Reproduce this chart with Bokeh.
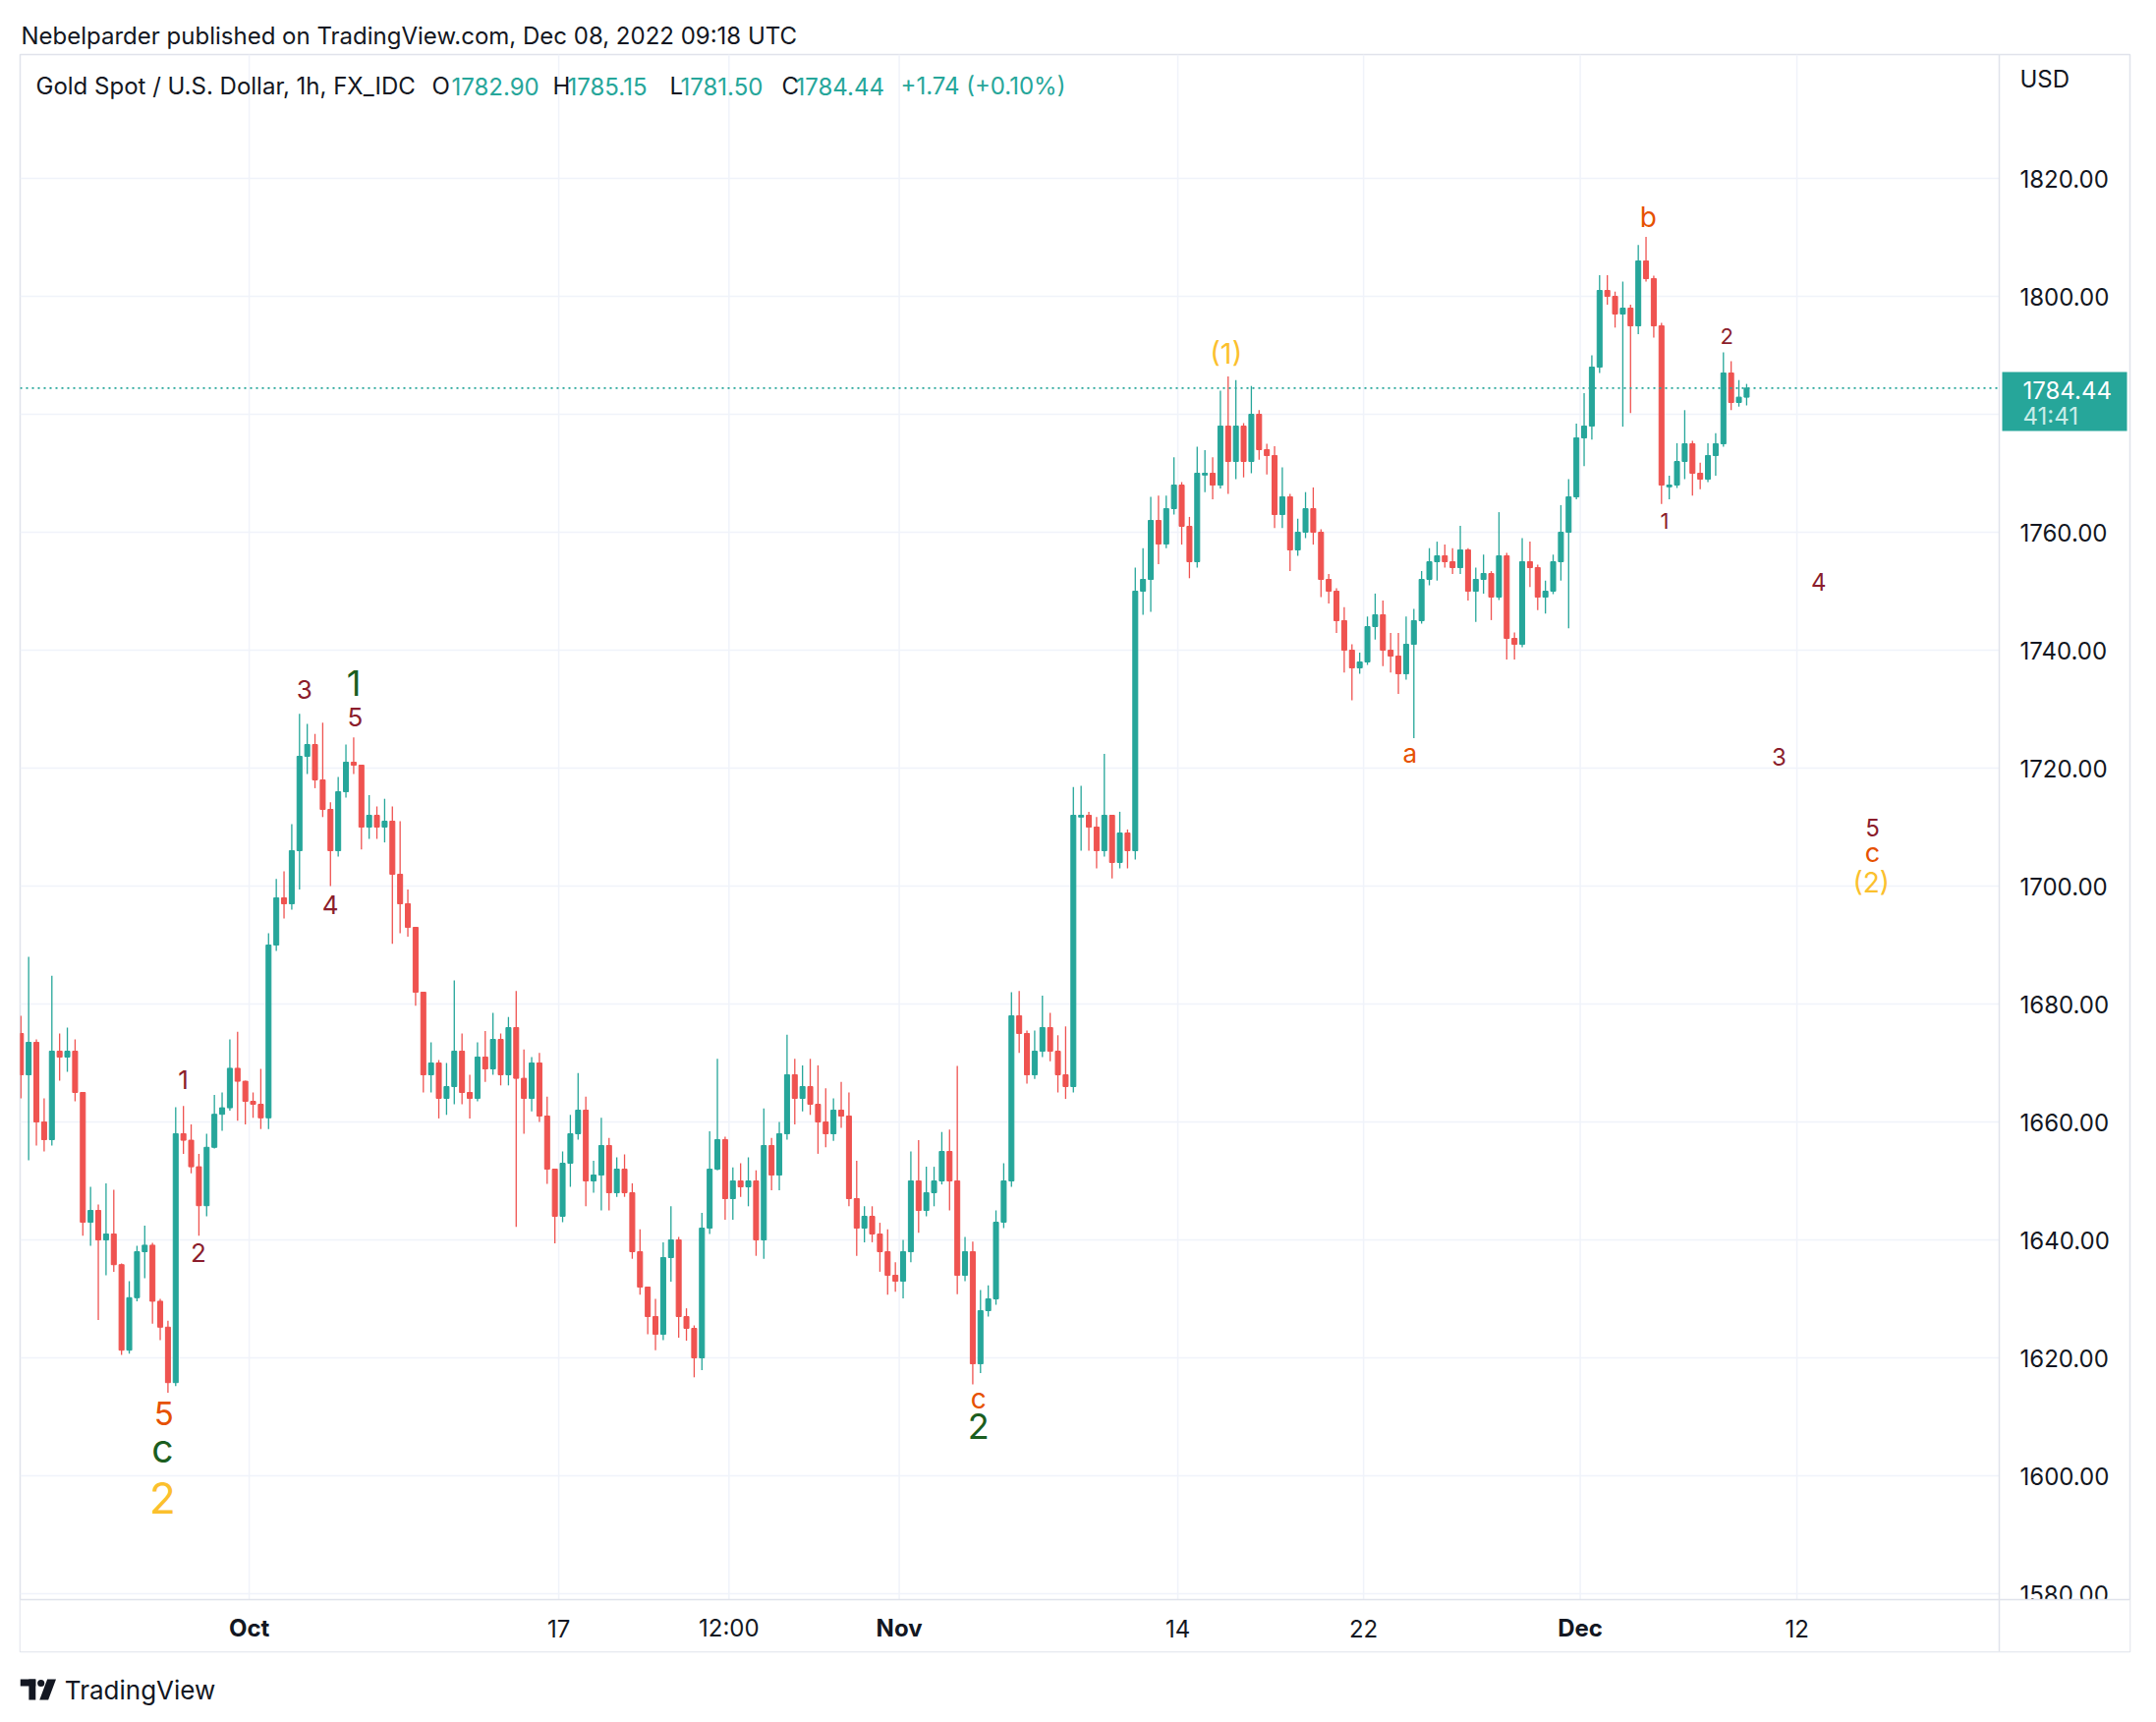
import numpy as np
from bokeh.plotting import figure
from bokeh.layouts import column
from bokeh.models import ColumnDataSource, Label
from bokeh.core.properties import value
from bokeh.embed import file_html
from bokeh.resources import INLINE

# ---------------- data (~6h bars, x in trading days from Oct 3) ----------------
first_open = 1675.0
bar_start_day = -7.5
bar_step = 0.25

highs = [
    1678, 1688,
    1674, 1664, 1684.8, 1675,
    1676, 1674, 1665, 1649,
    1646, 1649.6, 1648.5, 1636,
    1633, 1639, 1642.4, 1639.5,
    1630, 1626.3, 1662.5, 1662.7,
    1659.6, 1654.6, 1658, 1664.6,
    1665, 1674, 1675.3, 1667,
    1665, 1669, 1692, 1701.2,
    1702.5, 1710.5, 1729.2, 1727.5,
    1725.8, 1727.7, 1714.2, 1718.5,
    1724, 1725.2, 1720.5, 1715.4,
    1713.5, 1714.8, 1713.5, 1711,
    1699.4, 1693, 1682, 1673.5,
    1670.5, 1670, 1684, 1675,
    1668, 1673.5, 1675.4, 1678.5,
    1675, 1677.8, 1682.2, 1672.3,
    1671, 1671.7, 1664.3, 1652,
    1655, 1661.2, 1668.3, 1664.3,
    1653.4, 1660.7, 1657.3, 1654,
    1654.5, 1649.6, 1641.8, 1632,
    1630, 1639.6, 1645.7, 1640.5,
    1628.4, 1625.5, 1644.6, 1658.4,
    1670.7, 1657.5, 1652.3, 1653,
    1654, 1651.8, 1662.3, 1657.3,
    1660, 1674.8, 1670.7, 1669.6,
    1670.7, 1669.6, 1665.7, 1664,
    1666.8, 1665, 1653.4, 1645.7,
    1645.7, 1642.9, 1641.8, 1636.2,
    1640, 1655, 1656.9, 1652.4,
    1652.4, 1658.3, 1658.7, 1669.5,
    1640.5, 1639.7, 1631.5, 1632.3,
    1645, 1653, 1682, 1682.2,
    1675.5, 1675.5, 1681.4, 1678.5,
    1674.7, 1676.2, 1716.8, 1717,
    1712.6, 1711.7, 1722.4, 1712,
    1712.6, 1709.6, 1754, 1757.3,
    1766, 1766.2, 1766.2, 1772.7,
    1768.5, 1762.6, 1774.5, 1773.9,
    1772.7, 1784, 1786.4, 1785.8,
    1778.5, 1784.8, 1780.7, 1775,
    1774.6, 1771, 1766.5, 1762.3,
    1766.8, 1767.6, 1760.5, 1752.9,
    1750.5, 1747.3, 1741, 1739.6,
    1745.7, 1749.6, 1748.4, 1742.9,
    1742.9, 1745.7, 1747, 1753.4,
    1757.3, 1758.4, 1757.9, 1757.3,
    1761.1, 1757.3, 1754, 1756.2,
    1753.4, 1763.4, 1756.5, 1743,
    1759, 1758.4, 1754.5, 1751.8,
    1756.2, 1764.6, 1769, 1778.4,
    1783.6, 1790, 1803.6, 1803.6,
    1800.8, 1802.5, 1798.6, 1808.7,
    1810.1, 1803.5, 1795.5, 1769.6,
    1775.1, 1780.7, 1775.5, 1771.8,
    1775.1, 1776.8, 1790.5, 1789,
    1785.8, 1785.15,
]

lows = [
    1664, 1653.5,
    1656, 1655, 1656, 1667,
    1668.5, 1663.5, 1640.7, 1639,
    1626.4, 1634, 1634.6, 1620.5,
    1620.7, 1629.6, 1633.5, 1625.8,
    1623, 1614.1, 1615.2, 1654.6,
    1651.3, 1640.7, 1644, 1655.5,
    1658.5, 1661.9, 1660.2, 1659.6,
    1660.7, 1658.8, 1658.8, 1689,
    1694.5, 1696, 1699.4, 1719,
    1716.6, 1711.7, 1700, 1705,
    1715, 1719, 1706.2, 1708,
    1708, 1707.4, 1690.2, 1692,
    1691.4, 1679.7, 1665, 1665,
    1660.6, 1661.2, 1663, 1663,
    1660.6, 1663.5, 1666.8, 1668,
    1666.2, 1666.2, 1642.2, 1658,
    1661.8, 1660, 1649.5, 1639.4,
    1643, 1649, 1657, 1645.7,
    1648, 1645, 1645, 1647.3,
    1647.3, 1636.8, 1630.7, 1624,
    1621.3, 1623, 1632.9, 1623.4,
    1622.9, 1616.7, 1617.9, 1641,
    1651.8, 1643.4, 1643.4, 1647.3,
    1645.7, 1637.3, 1636.8, 1648.4,
    1648.4, 1657, 1659.6, 1661.8,
    1661.2, 1654.6, 1655.7, 1656.8,
    1659, 1645.7, 1637.3, 1639.6,
    1639.6, 1634.6, 1630.7, 1631.2,
    1630.1, 1636.2, 1641.2, 1644,
    1645.7, 1649.4, 1645, 1630.8,
    1633, 1615.5, 1617.4, 1627,
    1629, 1642, 1649, 1671.7,
    1666.5, 1667.3, 1671, 1670.3,
    1665, 1663.9, 1665, 1706,
    1706, 1703, 1705, 1701.3,
    1703, 1703, 1704.5, 1746,
    1746.5, 1754.6, 1757.3, 1763,
    1757.9, 1752.2, 1754, 1766.8,
    1765.6, 1767.4, 1766.5, 1769,
    1769.3, 1770, 1772.3, 1769.8,
    1760.7, 1760.7, 1753.4, 1756,
    1759, 1757.9, 1749, 1747.9,
    1742.9, 1736.2, 1731.5, 1736,
    1737.5, 1741.8, 1737.3, 1736.2,
    1732.6, 1735, 1725.1, 1744.5,
    1751, 1751.8, 1754, 1752.9,
    1752.9, 1748.4, 1744.8, 1749.6,
    1745.1, 1748.5, 1738.4, 1738.4,
    1740.5, 1750.7, 1746.8, 1746.2,
    1749.5, 1751.8, 1743.7, 1765.6,
    1771.2, 1775.7, 1787, 1798.6,
    1794.7, 1777.9, 1780.2, 1793.6,
    1802.5, 1793, 1764.8, 1765.6,
    1767.5, 1769, 1766.2, 1767.3,
    1768.5, 1769.6, 1774.5, 1780.7,
    1781.3, 1781.5,
]

closes = [
    1668, 1673.5,
    1660, 1657, 1672, 1671,
    1672, 1665, 1643, 1645,
    1640, 1641, 1635.8, 1621.3,
    1630.2, 1638, 1639.1, 1629.6,
    1625.2, 1615.8, 1658, 1656.9,
    1652.4, 1645.8, 1655.7, 1661.3,
    1662.4, 1669.1, 1666.9, 1663.5,
    1663, 1660.7, 1690, 1698,
    1697, 1706, 1722, 1724,
    1718, 1713, 1706, 1716,
    1721, 1720.5, 1710, 1712,
    1710, 1711, 1702, 1697,
    1693, 1682, 1668, 1670,
    1664, 1666, 1672, 1665,
    1664, 1671, 1669, 1674,
    1668, 1676, 1667.4, 1664,
    1670, 1661, 1652, 1644,
    1653, 1658, 1662, 1650,
    1651, 1656, 1648, 1652,
    1648, 1638, 1632, 1627,
    1624, 1637, 1640, 1627,
    1625, 1620, 1642, 1652,
    1657, 1647, 1650, 1649,
    1650, 1640, 1656, 1651,
    1658, 1668, 1664, 1666,
    1663, 1660, 1658, 1662,
    1661, 1647, 1642, 1644,
    1641, 1638, 1634, 1633,
    1638, 1650, 1645, 1648,
    1650, 1655, 1650, 1634,
    1638, 1619, 1628, 1630,
    1643, 1650, 1678, 1675,
    1668, 1672, 1676, 1672,
    1668, 1666, 1712, 1712,
    1710, 1706, 1712, 1704,
    1709, 1706, 1750, 1752,
    1762, 1758, 1764, 1768,
    1761, 1755, 1770, 1770,
    1768, 1778, 1772, 1778,
    1772, 1780, 1774, 1773,
    1763, 1766, 1757, 1760,
    1764, 1760, 1752, 1750,
    1745, 1740, 1737, 1738,
    1744, 1746, 1740, 1739,
    1736, 1741, 1745, 1752,
    1755, 1756, 1755, 1754,
    1757, 1750, 1752, 1753,
    1749, 1756, 1742, 1741,
    1755, 1754, 1749, 1750,
    1755, 1760, 1766, 1776,
    1778, 1788, 1801, 1800,
    1797, 1798, 1795, 1806,
    1803, 1795, 1768, 1768,
    1772, 1775, 1770, 1769,
    1773, 1775, 1787, 1782,
    1782.9, 1784.44,
]

last_price = 1784.44
price_ticks = [1580, 1600, 1620, 1640, 1660, 1680, 1700, 1720, 1740, 1760, 1780, 1800, 1820]
time_tick_days = [0, 10, 15.5, 21, 30, 36, 43, 50]
time_tick_labels = ["Oct", "17", "12:00", "Nov", "14", "22", "Dec", "12"]
month_ticks = {"Oct", "Nov", "Dec"}

# Elliott wave annotations
MAROON, ORANGE, GREEN, YELLOW = "#8b1d2c", "#e65100", "#1b5e20", "#fbc02d"
wave_text = ["1", "2", "3", "4", "5", "1", "5", "c", "2", "c", "2", "(1)", "a", "b",
             "1", "2", "3", "4", "5", "c", "(2)"]
wave_day = [-2.13, -1.64, 1.78, 2.62, 3.42, 3.38, -2.76, -2.80, -2.80, 23.56, 23.56, 31.56, 37.5, 45.2,
            45.73, 47.73, 49.42, 50.70, 52.44, 52.44, 52.40]
wave_price = [1667.2, 1637.8, 1733.3, 1696.8, 1728.6, 1734.4, 1610.6, 1604.7, 1596.3, 1613.1, 1608.4,
              1790.4, 1722.5, 1813.5, 1762.0, 1793.2, 1722.0, 1751.6, 1710.0, 1705.7, 1700.6]
wave_color = [MAROON, MAROON, MAROON, MAROON, MAROON, GREEN, ORANGE, GREEN, YELLOW, ORANGE, GREEN,
              YELLOW, ORANGE, ORANGE, MAROON, MAROON, MAROON, MAROON, MAROON, ORANGE, YELLOW]
wave_size = ["26px", "26px", "26px", "26px", "26px", "36px", "33px", "39px", "44px", "28px", "36px",
             "29px", "26px", "28px", "22px", "22px", "24px", "24px", "24px", "27px", "28px"]

# ---------------- layout constants (pixels) ----------------
FONT = "Inter"
TXT = "#131722"
UPC, DNC = "#26a69a", "#ef5350"
GRID = "#f0f3fa"
BORDER = "#e0e3eb"
PX_PER_DAY = 31.5
PX_PER_USD = 6.0
LEFT_PAGE, TOP_PAGE = 20, 55
CHART_W, CHART_H = 2014, 1572          # candle area
FRAME_W, FRAME_H = 2147, 1625          # incl. price column and time row
X0 = -7.40
Y1 = 1841.0
X_EDGE = X0 + CHART_W / PX_PER_DAY
X1 = X0 + FRAME_W / PX_PER_DAY
Y_EDGE = Y1 - CHART_H / PX_PER_USD
Y0 = Y1 - FRAME_H / PX_PER_USD

def dx(px):  # pixels from frame left -> days
    return X0 + px / PX_PER_DAY

def dy(py):  # pixels from frame top -> price
    return Y1 - py / PX_PER_USD

# ---------------- derived ----------------
n = len(closes)
x = bar_start_day + bar_step * (np.arange(n) + 0.5)
c = np.array(closes, dtype=float)
o = np.array([first_open] + closes[:-1], dtype=float)
h = np.maximum(np.array(highs, dtype=float), np.maximum(o, c))
l = np.minimum(np.array(lows, dtype=float), np.minimum(o, c))
up = c >= o
col = [UPC if u else DNC for u in up]
top = np.maximum(o, c)
bot = np.minimum(o, c)
bot = np.where(top - bot < 0.3, top - 0.3, bot)
src = ColumnDataSource(dict(x=x, h=h, l=l, top=top, bot=bot, col=col))

W = LEFT_PAGE + FRAME_W + 10
H = TOP_PAGE + FRAME_H + 10
p = figure(width=W, height=H, x_range=(X0, X1), y_range=(Y0, Y1),
           output_backend="svg", toolbar_location=None,
           min_border_left=LEFT_PAGE, min_border_right=10, min_border_top=TOP_PAGE,
           min_border_bottom=10)
p.xaxis.visible = False
p.yaxis.visible = False
p.xgrid.visible = False
p.ygrid.visible = False
p.background_fill_color = "white"
p.border_fill_color = "white"
p.outline_line_color = BORDER
p.outline_line_width = 1.5

p.title.text = "Nebelparder published on TradingView.com, Dec 08, 2022 09:18 UTC"
p.title.text_font = FONT
p.title.text_font_size = "24px"
p.title.text_font_style = "normal"
p.title.text_color = TXT
p.title.align = "left"
p.title.offset = 1
p.title.standoff = 10

# grid lines (only inside the candle area)
p.segment(x0=time_tick_days, y0=[Y_EDGE] * len(time_tick_days), x1=time_tick_days,
          y1=[Y1] * len(time_tick_days), line_color=GRID, line_width=1.5)
p.segment(x0=[X0] * len(price_ticks), y0=price_ticks, x1=[X_EDGE] * len(price_ticks), y1=price_ticks,
          line_color=GRID, line_width=1.5)

# candles
p.segment(x0="x", y0="l", x1="x", y1="h", color="col", line_width=1.3, source=src)
p.vbar(x="x", width=0.16, top="top", bottom="bot", fill_color="col", line_color="col", line_width=1, source=src)

# current price dotted line
p.segment(x0=[X0], y0=[last_price], x1=[X_EDGE], y1=[last_price], line_color=UPC, line_width=1.6,
          line_dash="2 4")

# wave labels
wsrc = ColumnDataSource(dict(x=wave_day, y=wave_price, t=wave_text, c=wave_color, s=wave_size))
p.text(x="x", y="y", text="t", text_color="c", text_font_size="s", text_font=value(FONT),
       text_align="center", text_baseline="middle", source=wsrc)

# price scale (right column)
PRICE_LABEL_X = dx(2035)
p.text(x=[PRICE_LABEL_X] * len(price_ticks), y=price_ticks,
       text=["%.2f" % v for v in price_ticks], text_font=value(FONT), text_font_size="24px",
       text_color=TXT, text_align="left", text_baseline="middle")
p.text(x=[PRICE_LABEL_X], y=[dy(25)], text=["USD"], text_font=value(FONT), text_font_size="24px",
       text_color=TXT, text_align="left", text_baseline="middle")

# mask below candle area (time row), then separators
p.quad(left=[X0], right=[X1], bottom=[Y0], top=[Y_EDGE], fill_color="white", line_color=None)
p.segment(x0=[X0], y0=[Y_EDGE], x1=[X1], y1=[Y_EDGE], line_color=BORDER, line_width=1.5)
p.segment(x0=[X_EDGE], y0=[Y0], x1=[X_EDGE], y1=[Y1], line_color=BORDER, line_width=1.5)

# time scale labels
normal_idx = [i for i, t in enumerate(time_tick_labels) if t not in month_ticks]
bold_idx = [i for i, t in enumerate(time_tick_labels) if t in month_ticks]
ty = dy(1656 - TOP_PAGE)
p.text(x=[time_tick_days[i] for i in normal_idx], y=[ty] * len(normal_idx),
       text=[time_tick_labels[i] for i in normal_idx], text_font=value(FONT), text_font_size="24px",
       text_color=TXT, text_align="center", text_baseline="middle")
p.text(x=[time_tick_days[i] for i in bold_idx], y=[ty] * len(bold_idx),
       text=[time_tick_labels[i] for i in bold_idx], text_font=value(FONT), text_font_size="24px",
       text_font_style="bold", text_color=TXT, text_align="center", text_baseline="middle")

# last price tag
p.quad(left=[dx(2017)], right=[dx(2144)], top=[dy(323)], bottom=[dy(383)], fill_color=UPC, line_color=None)
p.text(x=[dx(2038)], y=[dy(341)], text=["%.2f" % last_price], text_font=value(FONT), text_font_size="24px",
       text_color="white", text_align="left", text_baseline="middle")
p.text(x=[dx(2038)], y=[dy(368)], text=["41:41"], text_font=value(FONT), text_font_size="24px",
       text_color="#c9ece8", text_align="left", text_baseline="middle")

# legend line (inside chart, top-left)
legend_parts = [(16, "Gold Spot / U.S. Dollar, 1h, FX_IDC", TXT), (419, "O", TXT), (439, "1782.90", UPC),
                (542, "H", TXT), (557, "1785.15", UPC), (661, "L", TXT), (672, "1781.50", UPC),
                (775, "C", TXT), (789, "1784.44", UPC), (896, "+1.74 (+0.10%)", UPC)]
for px, t, cc in legend_parts:
    p.add_layout(Label(x=px, y=FRAME_H - 32, x_units="screen", y_units="screen", text=t,
                       text_font=FONT, text_font_size="24px", text_color=cc,
                       text_baseline="middle", text_align="left"))

# ---------------- footer strip with the TradingView mark ----------------
FH = 56
f = figure(width=W, height=FH, x_range=(0, W), y_range=(0, FH), output_backend="svg",
           toolbar_location=None, min_border=0)
f.axis.visible = False
f.grid.visible = False
f.outline_line_color = None
f.background_fill_color = "white"
f.border_fill_color = "white"

def fy(page_y):
    return FH - (page_y - H)

SHIFT = -20  # the strip renders ~20px to the right of its nominal origin
f.quad(left=[20 + SHIFT], right=[36 + SHIFT], top=[fy(1708)], bottom=[fy(1715)], fill_color=TXT, line_color=None)
f.quad(left=[29 + SHIFT], right=[36 + SHIFT], top=[fy(1708)], bottom=[fy(1729)], fill_color=TXT, line_color=None)
f.circle(x=[41.5 + SHIFT], y=[fy(1712)], radius=3.6, fill_color=TXT, line_color=None)
f.patch(x=[48 + SHIFT, 57 + SHIFT, 49 + SHIFT, 40 + SHIFT], y=[fy(1708), fy(1708), fy(1729), fy(1729)],
        fill_color=TXT, line_color=None)
f.text(x=[66 + SHIFT], y=[fy(1719)], text=["TradingView"], text_font=value(FONT), text_font_size="26px",
       text_color=TXT, text_align="left", text_baseline="middle")

layout = column(p, f, spacing=0)
open("out.html", "w").write(file_html(layout, INLINE))
